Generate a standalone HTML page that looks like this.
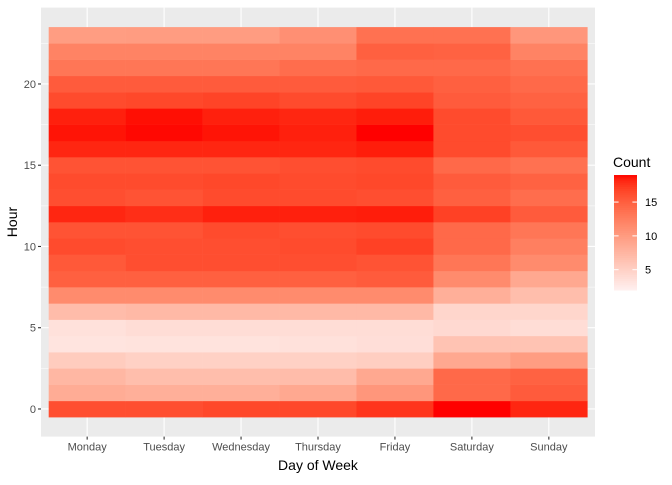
<!DOCTYPE html>
<html><head><meta charset="utf-8"><style>
body{margin:0;background:#fff;font-family:"Liberation Sans",sans-serif}
</style></head><body>
<svg id="chart" width="672" height="480" xmlns="http://www.w3.org/2000/svg"></svg>
<script>
const days=["Monday","Tuesday","Wednesday","Thursday","Friday","Saturday","Sunday"];
const hourTicks=[0,5,10,15,20];
const legendTicks=[5,10,15];
// counts[hour] = [Mon..Sun]
const counts=[
[16.2,16.2,16.6,16.6,17.6,19,18.2],
[8.5,8.2,8.2,8.9,10.5,14.3,15.3],
[7.5,6.8,6.8,7,8.9,14.3,14.8],
[5.5,5,5,5,5.3,8.9,9.9],
[3.2,3.3,3.3,3.5,3.7,6.3,6.3],
[3.5,3.8,3.8,3.8,3.8,4.2,3.8],
[7,7.3,7.3,7.3,7.3,4.5,4.5],
[11.5,11.5,11.5,11.5,11.5,8.2,6.8],
[15,15,15,15,15.3,11.5,8.9],
[15.5,16.2,16.2,16.2,15.9,13.3,11.5],
[16.4,16.2,16.2,16.4,17,14.3,12.5],
[15.9,15.9,16.4,16.2,16.4,14.3,13.3],
[18.2,17.9,18.4,18.4,18.5,17,15.3],
[16.2,15.9,16.4,16.4,16.2,15,14],
[16.4,16.4,16.6,16.4,16.6,15.3,14.8],
[15.9,15.9,15.9,16.2,16.4,14.3,13.7],
[18.2,18.2,18.2,18.2,18.5,16.4,15.5],
[18.7,18.9,18.7,18.4,19,16.4,16.2],
[18.4,18.8,18.4,18.2,18.5,16.4,15.5],
[16.4,16.6,16.8,16.4,16.8,15.3,14.8],
[15.3,15.3,15.3,15.3,15.5,15,14.3],
[13.3,13.3,13.3,14,14.3,14.3,13.7],
[12.2,12.2,12.2,12.2,15,14.8,12.2],
[9.9,10,10,11.1,13.7,13.7,10.5]
];
const NS="http://www.w3.org/2000/svg";
const svg=document.getElementById('chart');
function mk(t,a,p){const e=document.createElementNS(NS,t);for(const k in a)e.setAttribute(k,a[k]);(p||svg).appendChild(e);return e;}
function toLin(c){c/=255;return c<=0.04045?c/12.92:Math.pow((c+0.055)/1.055,2.4);}
function fromLin(c){c=c<=0.0031308?12.92*c:1.055*Math.pow(c,1/2.4)-0.055;return Math.round(Math.max(0,Math.min(1,c))*255);}
function rgb2lab(r,g,b){r=toLin(r);g=toLin(g);b=toLin(b);
let x=(0.4124*r+0.3576*g+0.1805*b)/0.95047,y=0.2126*r+0.7152*g+0.0722*b,z=(0.0193*r+0.1192*g+0.9505*b)/1.08883;
const f=t=>t>0.008856?Math.cbrt(t):7.787*t+16/116;x=f(x);y=f(y);z=f(z);return[116*y-16,500*(x-y),200*(y-z)];}
function lab2rgb(L,a,b){let y=(L+16)/116,x=a/500+y,z=y-b/200;
const fi=t=>t*t*t>0.008856?t*t*t:(t-16/116)/7.787;x=fi(x)*0.95047;y=fi(y);z=fi(z)*1.08883;
const r=3.2406*x-1.5372*y-0.4986*z,g=-0.9689*x+1.8758*y+0.0415*z,bb=0.0557*x-0.2040*y+1.0570*z;
return `rgb(${fromLin(r)},${fromLin(g)},${fromLin(bb)})`;}
const lo=rgb2lab(255,240,240),hi=rgb2lab(255,0,0);
const vmin=2,vmax=19;
function col(v){let t=(v-vmin)/(vmax-vmin);t=Math.max(0,Math.min(1,t));return lab2rgb(lo[0]+(hi[0]-lo[0])*t,lo[1]+(hi[1]-lo[1])*t,lo[2]+(hi[2]-lo[2])*t);}
const px0=41,px1=595,py0=7.6,py1=436.6;
const bw=(px1-px0)/(days.length-1+1.2);
const xs=i=>px0+bw*(0.6+i);
const ys=h=>py1-(h+1.7)*(py1-py0)/26.4;
mk('rect',{x:px0,y:py0,width:px1-px0,height:py1-py0,fill:'#EBEBEB',});
for(let h=-2.5;h<=25;h+=5){const y=ys(h);if(y>py0&&y<py1)mk('line',{x1:px0,x2:px1,y1:y,y2:y,stroke:'#fff','stroke-width':0.55,});}
hourTicks.forEach(h=>mk('line',{x1:px0,x2:px1,y1:ys(h),y2:ys(h),stroke:'#fff','stroke-width':1.1,}));
days.forEach((d,i)=>mk('line',{x1:xs(i),x2:xs(i),y1:py0,y2:py1,stroke:'#fff','stroke-width':1.1,}));
const th=(py1-py0)/26.4;
counts.forEach((row,h)=>row.forEach((v,i)=>{
 const r=mk('rect',{x:xs(i)-bw/2,y:ys(h)-th/2,width:bw+0.3,height:th+0.3,fill:col(v)});
 
 
}));
days.forEach((d,i)=>{mk('line',{x1:xs(i),x2:xs(i),y1:py1,y2:py1+3,stroke:'#333','stroke-width':1.1});
 const t=mk('text',{x:xs(i),y:py1+14,'text-anchor':'middle','font-size':11,fill:'#4D4D4D',});t.textContent=d;});
hourTicks.forEach(h=>{mk('line',{x1:px0-3,x2:px0,y1:ys(h),y2:ys(h),stroke:'#333','stroke-width':1.1});
 const t=mk('text',{x:px0-5,y:ys(h)+4,'text-anchor':'end','font-size':11,fill:'#4D4D4D',});t.textContent=h;});
let t=mk('text',{x:318,y:470,'text-anchor':'middle','font-size':14,fill:'#000',});t.textContent='Day of Week';
t=mk('text',{x:17,y:222,'text-anchor':'middle','font-size':14,fill:'#000',transform:'rotate(-90 17 222)',});t.textContent='Hour';
const lg=mk('g',{});
t=mk('text',{x:613,y:167,'font-size':14,fill:'#000',},lg);t.textContent='Count';
const lb0=290,lb1=175,lx=614,lw=23;
const ly=v=>lb0-(v-vmin)/(vmax-vmin)*(lb0-lb1);
for(let k=0;k<60;k++){const v0=vmin+(vmax-vmin)*k/60,v1=vmin+(vmax-vmin)*(k+1)/60;
 mk('rect',{x:lx,y:ly(v1),width:lw,height:ly(v0)-ly(v1)+0.5,fill:col((v0+v1)/2)},lg);}
legendTicks.forEach(v=>{mk('line',{x1:lx,x2:lx+4.6,y1:ly(v),y2:ly(v),stroke:'#fff'},lg);mk('line',{x1:lx+lw-4.6,x2:lx+lw,y1:ly(v),y2:ly(v),stroke:'#fff'},lg);
 const s=mk('text',{x:lx+lw+8,y:ly(v)+4,'font-size':11,fill:'#000',},lg);s.textContent=v;});
</script>
</body></html>
